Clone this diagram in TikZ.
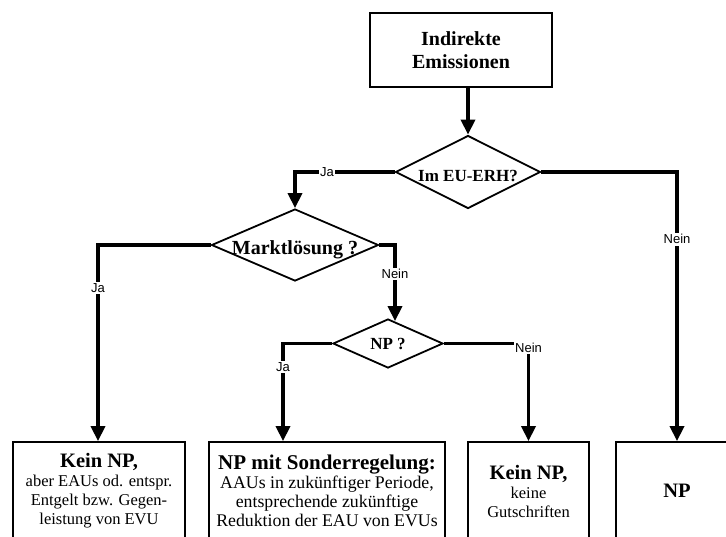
\documentclass[tikz,border=0pt]{standalone}
\usepackage{fontspec}
\setmainfont{Liberation Serif}
\newfontfamily\labelfont{Liberation Sans}
\usetikzlibrary{shapes.geometric,arrows.meta}

\tikzset{
  box/.style={draw, line width=1.8pt, fill=white, align=center, inner sep=0pt},
  resultbox/.style={box, minimum height=98pt, font=\fontsize{16.5}{19}\selectfont},
  dia/.style={draw, diamond, line width=1.8pt, inner sep=0pt},
  dtext/.style={font=\fontsize{17}{19.5}\selectfont\bfseries, inner sep=0pt},
  conn/.style={line width=3.6pt, -{Triangle[width=14pt,length=15pt]}},
  lbl/.style={fill=white, inner sep=1.5pt, font=\labelfont\fontsize{13}{15}\selectfont},
}
\newcommand\headline[2][20.5]{{\fontsize{#1}{23}\selectfont\bfseries #2}}

\begin{document}
\begin{tikzpicture}[x=1pt,y=-1pt]
\clip (0,0) rectangle (726,536);

% start node
\node[box, minimum width=182pt, minimum height=74pt,
      font=\fontsize{20}{23}\selectfont\bfseries] (src) at (461,50) {Indirekte\\Emissionen};

% decisions
\node[dia, minimum width=145pt, minimum height=73pt] (q1) at (468,172) {};
\node[dtext] at ([yshift=-4pt]q1.center) {Im EU-ERH?};

\node[dia, minimum width=167pt, minimum height=72pt] (q2) at (295,245) {};
\node[dtext, font=\fontsize{20}{23}\selectfont\bfseries] at ([yshift=-5pt]q2.center) {Marktlösung ?};

\node[dia, minimum width=110pt, minimum height=49pt] (q3) at (388,343.5) {};
\node[dtext] at (q3.center) {NP ?};

% outcomes
\node[resultbox, minimum width=172pt] (r1) at (99,491)
  {\headline{Kein NP,}\\aber EAUs od. entspr.\\Entgelt bzw. Gegen-\\leistung von EVU};
\node[resultbox, minimum width=236pt, font=\fontsize{17.8}{19}\selectfont] (r2) at (327,491)
  {\headline[21]{NP mit Sonderregelung:}\\AAUs in zukünftiger Periode,\\entsprechende zukünftige\\Reduktion der EAU von EVUs};
\node[resultbox, minimum width=121pt] (r3) at (528.5,491)
  {\headline{Kein NP,}\\keine\\Gutschriften};
\node[resultbox, minimum width=122pt] (r4) at (677,491) {\headline{NP}};

% connectors
\draw[conn] (src.south -| q1.north) -- (q1.north);
\draw[conn] (q1.west) -| node[lbl,pos=0.34]{Ja} (q2.north);
\draw[conn] (q1.east) -| node[lbl,pos=0.625]{Nein} (r4.north);
\draw[conn] (q2.west) -| node[lbl,pos=0.61]{Ja} ([xshift=-1pt]r1.north);
\draw[conn] (q2.east) -| node[lbl,pos=0.69]{Nein} ([xshift=7pt,yshift=-3pt]q3.north);
\draw[conn] (q3.west) -| node[lbl,pos=0.62]{Ja} ([xshift=-44pt]r2.north);
\draw[conn] (q3.east) -| node[lbl,pos=0.5,yshift=-4pt]{Nein} (r3.north);
\end{tikzpicture}
\end{document}
